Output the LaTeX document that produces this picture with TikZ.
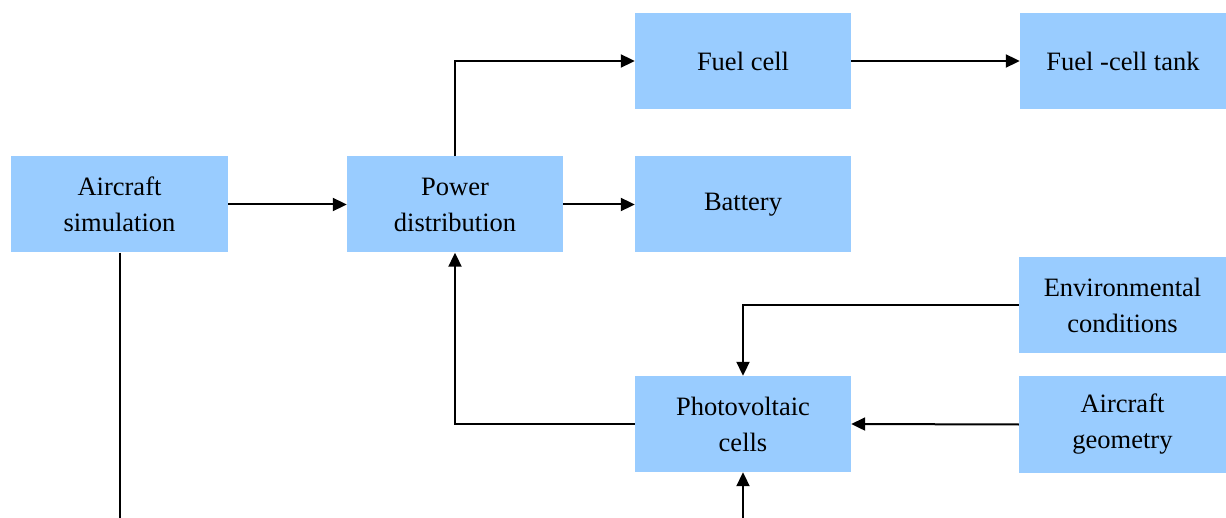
\documentclass[tikz,border=0pt]{standalone}
\usepackage{fontspec}
\setmainfont{LiberationSerif}[Extension=.ttf,UprightFont=*-Regular,BoldFont=*-Bold,ItalicFont=*-Italic,BoldItalicFont=*-BoldItalic]
\usetikzlibrary{arrows.meta}
\definecolor{boxblue}{RGB}{153,204,255}
\begin{document}
\begin{tikzpicture}[x=1pt,y=-1pt,
  blk/.style={fill=boxblue,draw=none,minimum width=216pt,minimum height=96pt,inner sep=0pt,
    align=center,font=\rmfamily\fontsize{26.5}{36}\selectfont},
  conn/.style={line width=2pt,-{Triangle[length=14pt,width=13pt]}},
  plain/.style={line width=2pt}]
\useasboundingbox (0,0) rectangle (1226,518);
\node[blk,minimum width=217pt] (sim) at (119.5,204.5) {Aircraft\\simulation};
\node[blk] (pd) at (455,204.5) {Power\\distribution};
\node[blk] (fc) at (743,61) {Fuel cell};
\node[blk,minimum width=206pt] (tank) at (1123,61) {Fuel -cell tank};
\node[blk] (bat) at (743,204.5) {Battery};
\node[blk,minimum width=207pt] (env) at (1122.5,305) {Environmental\\conditions};
\node[blk] (pv) at (743,424) {Photovoltaic\\cells};
\node[blk,minimum width=207pt] (geo) at (1122.5,424.5) {Aircraft\\geometry};
\coordinate (simend) at (119.5,518);
\coordinate (pvin) at (743,518);
\draw[conn] (sim.east) -- (pd.west);
\draw[conn] (pd.north) |- (fc.west);
\draw[conn] (fc.east) -- (tank.west);
\draw[conn] (pd.east) -- (bat.west);
\draw[conn] (env.west) -| (pv.north);
\draw[conn] (geo.west) -- (pv.east);
\draw[conn] (pv.west) -| (pd.south);
\draw[plain] (sim.south) -- (simend);
\draw[conn] (pvin) -- (pv.south);
\end{tikzpicture}
\end{document}
